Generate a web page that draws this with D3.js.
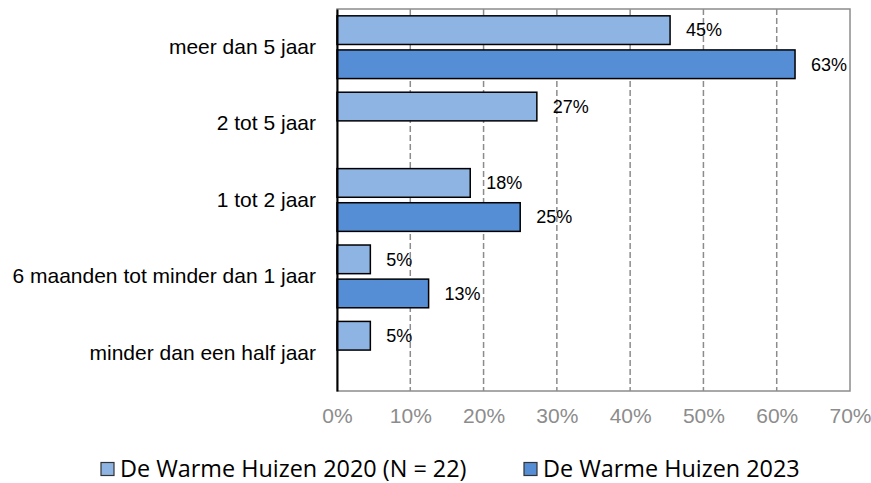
<!DOCTYPE html>
<html>
<head>
<meta charset="utf-8">
<script src="https://cdn.jsdelivr.net/npm/d3@7"></script>
<style>
  body { margin: 0; background: #fff; }
</style>
</head>
<body>
<script>
// Data
const categories = ["meer dan 5 jaar", "2 tot 5 jaar", "1 tot 2 jaar", "6 maanden tot minder dan 1 jaar", "minder dan een half jaar"];
const seriesNames = ["De Warme Huizen 2020 (N = 22)", "De Warme Huizen 2023"];
const values2020 = [45.45, 27.27, 18.18, 4.55, 4.55];
const values2023 = [62.5, null, 25, 12.5, null];
const xTicks = [0, 10, 20, 30, 40, 50, 60, 70];
const colors = ["#8EB4E3", "#558ED5"];

const W = 871, H = 483;
const margin = { top: 9, right: 21, bottom: 92, left: 337 };
const width = W - margin.left - margin.right;
const height = H - margin.top - margin.bottom;

const svg = d3.select("body").append("svg")
    .attr("width", W)
    .attr("height", H);

const g = svg.append("g")
    .attr("transform", `translate(${margin.left},${margin.top})`);

const x = d3.scaleLinear().domain([0, 70]).range([0, width]);
const y = d3.scaleBand().domain(categories).range([0, height]);
const y1 = d3.scaleBand().domain(seriesNames).range([0, y.bandwidth()])
    .paddingInner(0.16).paddingOuter(0.2);

// plot border
g.append("rect")
    .attr("x", 0).attr("y", 0)
    .attr("width", width).attr("height", height)
    .attr("fill", "none")
    .attr("stroke", "#8c8c8c")
    .attr("stroke-width", 1.5);

// dashed gridlines
g.selectAll("line.grid")
    .data(xTicks.filter(t => t > 0 && t < 70))
  .enter().append("line")
    .attr("class", "grid")
    .attr("x1", d => x(d)).attr("x2", d => x(d))
    .attr("y1", 0).attr("y2", height)
    .attr("stroke", "#8c8c8c")
    .attr("stroke-width", 1.5)
    .attr("stroke-dasharray", "6,3");

// x axis labels
const xAxis = d3.axisBottom(x).tickValues(xTicks).tickFormat(d => d + "%").tickSize(0).tickPadding(17);
const xg = g.append("g")
    .attr("transform", `translate(0,${height})`)
    .call(xAxis);
xg.select(".domain").remove();
xg.selectAll("text")
    .style("font-family", "'Liberation Sans', Arial, sans-serif")
    .style("font-size", "21px")
    .attr("fill", "#8c8c8c");

// bars
const rows = categories.map((c, i) => ({ cat: c, vals: [values2020[i], values2023[i]] }));
const groups = g.selectAll("g.cat")
    .data(rows)
  .enter().append("g")
    .attr("class", "cat")
    .attr("transform", d => `translate(0,${y(d.cat)})`);

const bars = groups.selectAll("g.bar")
    .data(d => d.vals.map((v, j) => ({ v, s: seriesNames[j], j })).filter(e => e.v != null))
  .enter().append("g")
    .attr("class", "bar");

bars.append("rect")
    .attr("x", 0)
    .attr("y", d => y1(d.s))
    .attr("width", d => x(d.v))
    .attr("height", y1.bandwidth())
    .attr("fill", d => colors[d.j])
    .attr("stroke", "#000")
    .attr("stroke-width", 1.5);

bars.append("text")
    .attr("x", d => x(d.v) + 16)
    .attr("y", d => y1(d.s) + y1.bandwidth() / 2)
    .attr("dy", "0.35em")
    .style("font-family", "'Liberation Sans', Arial, sans-serif")
    .style("font-size", "18px")
    .attr("fill", "#000")
    .text(d => Math.round(d.v) + "%");

// left axis
const yAxis = d3.axisLeft(y).tickSize(0).tickPadding(21);
const yg = g.append("g").call(yAxis);
yg.select(".domain")
    .attr("stroke", "#000")
    .attr("stroke-width", 2);
yg.selectAll("text")
    .style("font-family", "'Liberation Sans', Arial, sans-serif")
    .style("font-size", "21px")
    .attr("fill", "#000");

// legend
const legendX = [101, 524];
const legend = svg.selectAll("g.legend")
    .data(seriesNames)
  .enter().append("g")
    .attr("class", "legend")
    .attr("transform", (d, i) => `translate(${legendX[i]},469)`);

legend.append("rect")
    .attr("x", 0).attr("y", -6.5)
    .attr("width", 13).attr("height", 13)
    .attr("fill", (d, i) => colors[i])
    .attr("stroke", "#333")
    .attr("stroke-width", 1.2);

legend.append("text")
    .attr("x", 19)
    .attr("dy", "0.35em")
    .style("font-family", "'Open Sans', sans-serif")
    .style("font-size", "23.4px")
    .attr("fill", "#000")
    .text(d => d);
</script>
</body>
</html>
